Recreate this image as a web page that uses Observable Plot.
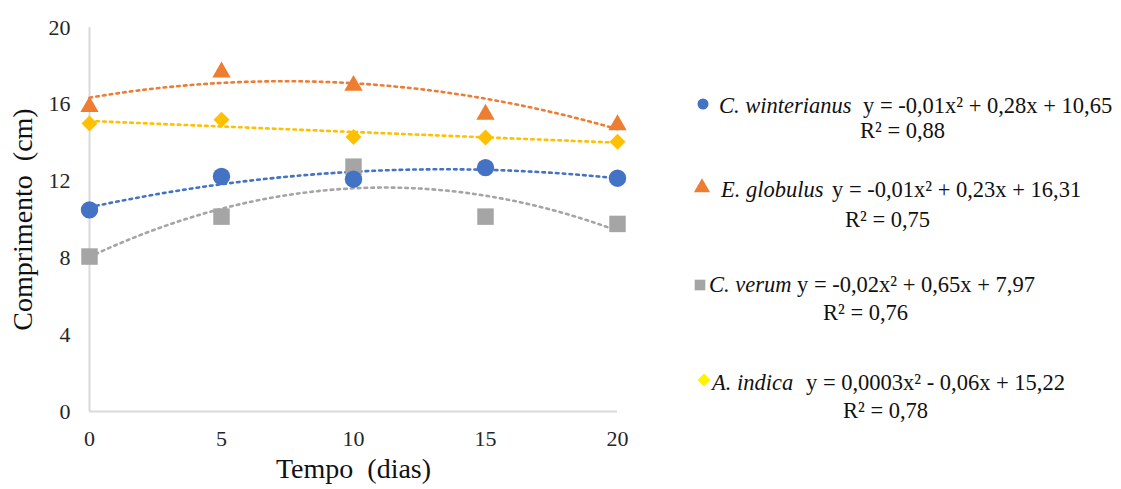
<!DOCTYPE html>
<html><head><meta charset="utf-8">
<script src="https://cdn.jsdelivr.net/npm/d3@7"></script>
<script src="https://cdn.jsdelivr.net/npm/@observablehq/plot@0.6"></script>
<style>
html,body{margin:0;padding:0;background:#fff;}
#wrap{position:relative;width:1121px;height:489px;overflow:hidden;}
#chart{position:absolute;left:0;top:0;}
#legend{position:absolute;left:680px;top:0;}
</style></head><body>
<div id="wrap"><div id="chart"></div><svg id="legend" width="441" height="489"></svg></div>
<script>
// ---- data ----
const dias = [0, 5, 10, 15, 20];
const especies = ["C. winterianus", "E. globulus", "C. verum", "A. indica"];
const cWinterianus = [10.5, 12.24, 12.1, 12.7, 12.15];
const eGlobulus = [16.0, 17.8, 17.1, 15.6, 15.05];
const cVerum = [8.07, 10.15, 12.75, 10.15, 9.77];
const aIndica = [15.0, 15.2, 14.3, 14.27, 14.05];
const equacoes = [
  "y = -0,01x² + 0,28x + 10,65",
  "y = -0,01x² + 0,23x + 16,31",
  "y = -0,02x² + 0,65x + 7,97",
  "y = 0,0003x² - 0,06x + 15,22"
];
const r2 = ["R² = 0,88", "R² = 0,75", "R² = 0,76", "R² = 0,78"];
const xTicks = [0, 5, 10, 15, 20];
const yTicks = [0, 4, 8, 12, 16, 20];
const xLabel = "Tempo\u00a0\u00a0(dias)";
const yLabel = "Comprimento\u00a0\u00a0(cm)";

// ---- styles ----
const cores = ["#4472C4", "#ED7D31", "#A5A5A5", "#FFC000"];
const coresLegenda = ["#4472C4", "#ED7D31", "#A5A5A5", "#FFF200"];
const simbolos = ["circle", "triangle", "square", "diamond2"];
const raios = [8.7, 6.8, 9.3, 7.2];
const font = "'Liberation Serif', 'Times New Roman', Times, serif";

const series = [cWinterianus, eGlobulus, cVerum, aIndica];
const pontos = especies.flatMap((e, i) => dias.map((d, j) => ({especie: e, dia: d, valor: series[i][j]})));

// quadratic least-squares trendline (as in the original chart)
function quadFit(xs, ys) {
  let S = [0,0,0,0,0], T = [0,0,0];
  xs.forEach((x, i) => { for (let k = 0; k < 5; k++) S[k] += x ** k; for (let k = 0; k < 3; k++) T[k] += ys[i] * x ** k; });
  const A = [[S[0],S[1],S[2],T[0]],[S[1],S[2],S[3],T[1]],[S[2],S[3],S[4],T[2]]];
  for (let i = 0; i < 3; i++) {
    for (let j = i + 1; j < 3; j++) { const f = A[j][i] / A[i][i]; for (let k = i; k < 4; k++) A[j][k] -= f * A[i][k]; }
  }
  const c = [0,0,0];
  for (let i = 2; i >= 0; i--) { let s = A[i][3]; for (let k = i + 1; k < 3; k++) s -= A[i][k] * c[k]; c[i] = s / A[i][i]; }
  return c;
}
const curvas = especies.flatMap((e, i) => {
  const [a, b, c] = quadFit(dias, series[i]);
  return d3.range(0, 20.0001, 0.25).map(x => ({especie: e, dia: x, valor: a + b * x + c * x * x}));
});

const dotOrder = [2, 0, 1, 3];
const chart = Plot.plot({
  width: 680, height: 489,
  marginLeft: 89, marginRight: 63, marginTop: 27, marginBottom: 78,
  style: {fontFamily: font, fontSize: "22px", color: "#262626", background: "#fff"},
  x: {domain: [0, 20], ticks: xTicks, tickSize: 0, tickPadding: 19, label: null},
  y: {domain: [0, 20], ticks: yTicks, tickSize: 0, tickPadding: 19, label: null},
  color: {domain: especies, range: cores},
  symbol: {domain: especies, range: simbolos},
  marks: [
    Plot.ruleX([0], {stroke: "#d9d9d9", strokeWidth: 2}),
    Plot.ruleY([0], {stroke: "#d9d9d9", strokeWidth: 2}),
    Plot.line(curvas, {x: "dia", y: "valor", z: "especie", stroke: "especie", strokeWidth: 2.6, strokeDasharray: "2.6,4.2"}),
    ...dotOrder.map(k => Plot.dot(pontos, {
      filter: d => d.especie === especies[k],
      x: "dia", y: "valor", symbol: "especie", fill: "especie", stroke: "none",
      r: raios[k], dy: k === 1 ? 2.4 : 0
    })),
    Plot.text([yLabel], {text: d => d, frameAnchor: "left", textAnchor: "middle", rotate: -90, dx: -66, fontSize: 28, fill: "#111"}),
    Plot.text([xLabel], {text: d => d, frameAnchor: "bottom", textAnchor: "middle", dy: 66, fontSize: 28, fill: "#111"})
  ]
});
document.getElementById("chart").appendChild(chart);

// ---- legend ----
const layout = [
  {mx: 23, my: 104, ms: 5.5, nx: 39, ny: 113, ex: 183, rx: 180, ry: 138},
  {mx: 22, my: 186, ms: 6.0, nx: 41, ny: 197, ex: 152, rx: 165, ry: 227},
  {mx: 20, my: 285, ms: 6.0, nx: 29, ny: 292, ex: 117, rx: 143, ry: 320},
  {mx: 24, my: 380, ms: 5.8, nx: 32, ny: 390, ex: 126, rx: 163, ry: 418}
];
const d3sym = {circle: d3.symbolCircle, triangle: d3.symbolTriangle, square: d3.symbolSquare, diamond2: d3.symbolDiamond2};
const leg = d3.select("#legend").style("font-family", font).style("font-size", "22.5px");
especies.forEach((e, i) => {
  const L = layout[i];
  leg.append("path")
    .attr("d", d3.symbol().type(d3sym[simbolos[i]]).size(Math.PI * L.ms * L.ms)())
    .attr("transform", `translate(${L.mx},${L.my + (i === 1 ? 1.5 : 0)})`)
    .attr("fill", coresLegenda[i]);
  leg.append("text").attr("x", L.nx).attr("y", L.ny).attr("fill", "#111").style("font-style", "italic").text(e);
  leg.append("text").attr("x", L.ex).attr("y", L.ny).attr("fill", "#111").text(equacoes[i]);
  leg.append("text").attr("x", L.rx).attr("y", L.ry).attr("fill", "#111").text(r2[i]);
});
</script>
</body></html>
